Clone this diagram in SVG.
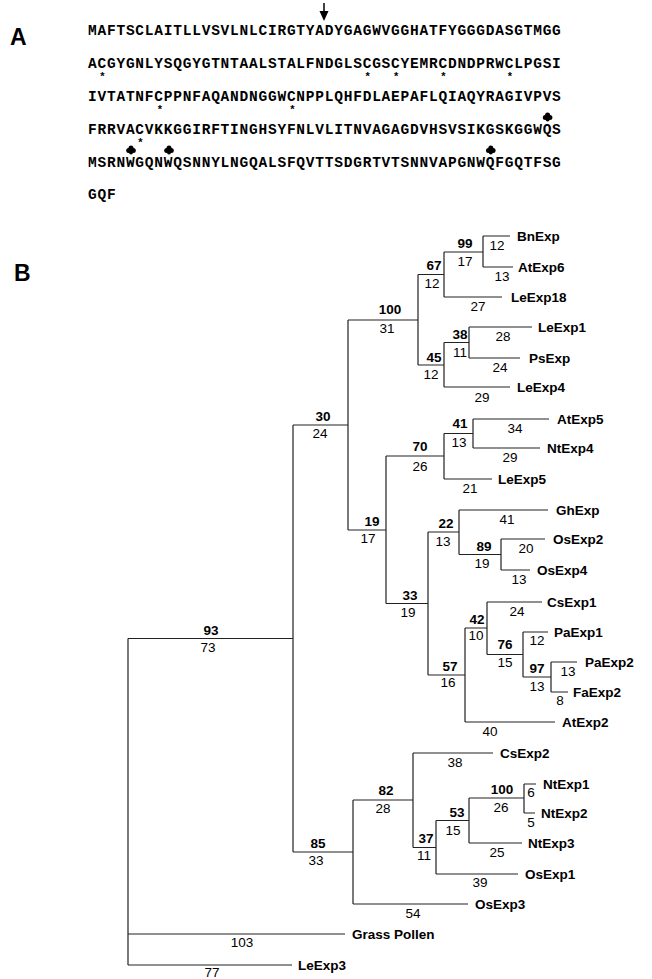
<svg xmlns="http://www.w3.org/2000/svg" width="652" height="979" viewBox="0 0 652 979">
<style>
.seq{font-family:"Liberation Mono","DejaVu Sans Mono",monospace;font-weight:bold;font-size:14.5px;letter-spacing:0.77px;fill:#000}
.ast{font-family:"Liberation Sans",Arial,sans-serif;font-weight:bold;font-size:11px;fill:#000;text-anchor:middle}
.panel{font-family:"Liberation Sans",Arial,sans-serif;font-weight:bold;font-size:23px;fill:#000}
.lab{font-family:"Liberation Sans",Arial,sans-serif;font-weight:bold;font-size:13.5px;fill:#000}
.bs{font-family:"Liberation Sans",Arial,sans-serif;font-weight:bold;font-size:13.5px;fill:#000;text-anchor:middle}
.len{font-family:"Liberation Sans",Arial,sans-serif;font-size:13.5px;fill:#000;text-anchor:middle}
.edge{fill:none;stroke:#222;stroke-width:1.2}
</style>
<defs>
<g id="blob"><circle cx="0" cy="-2" r="2.5"/><circle cx="-2.3" cy="0.6" r="2.5"/><circle cx="2.3" cy="0.6" r="2.5"/><circle cx="0" cy="2.4" r="2"/></g>
</defs>
<g id="panelA">
<text class="panel" x="10" y="45">A</text>
<text class="seq" x="88" y="35">MAFTSCLAITLLVSVLNLCIRGTYADYGAGWVGGHATFYGGGDASGTMGG</text>
<text class="seq" x="88" y="68">ACGYGNLYSQGYGTNTAALSTALFNDGLSCGSCYEMRCDNDPRWCLPGSI</text>
<text class="seq" x="88" y="101">IVTATNFCPPNFAQANDNGGWCNPPLQHFDLAEPAFLQIAQYRAGIVPVS</text>
<text class="seq" x="88" y="133.5">FRRVACVKKGGIRFTINGHSYFNLVLITNVAGAGDVHSVSIKGSKGGWQS</text>
<text class="seq" x="88" y="166.5">MSRNWGQNWQSNNYLNGQALSFQVTTSDGRTVTSNNVAPGNWQFGQTFSG</text>
<text class="seq" x="88" y="199">GQF</text>
<g id="arrow"><line x1="324" y1="3" x2="324" y2="13" stroke="#000" stroke-width="1.5"/><polygon points="319.5,11 328.5,11 324,21" fill="#000"/></g>
<g id="asterisks">
<text class="ast" x="102.5" y="80">*</text>
<text class="ast" x="367.7" y="80">*</text>
<text class="ast" x="396.1" y="80">*</text>
<text class="ast" x="443.5" y="80">*</text>
<text class="ast" x="509.8" y="80">*</text>
<text class="ast" x="159.8" y="113">*</text>
<text class="ast" x="292.4" y="113">*</text>
<text class="ast" x="140.4" y="145.5">*</text>
</g>
<g id="blobs" fill="#000">
<use href="#blob" x="547.6" y="117"/>
<use href="#blob" x="131" y="150"/>
<use href="#blob" x="169" y="150"/>
<use href="#blob" x="490.8" y="150"/>
</g>
</g>
<text class="panel" x="14" y="281">B</text>
<g id="connectors" class="edge">
<path d="M128 638.5V965M128 638.5H293M128 934H345M128 965H292"/>
<path d="M293 425V852M293 425H348M293 852H353"/>
<path d="M348 320V530M348 320H418M348 530H386"/>
<path d="M418 274.5V365M418 274.5H444M418 365H444"/>
<path d="M444 252V297M444 252H483M444 297H502"/>
<path d="M483 236V267M483 236H510M483 267H513"/>
<path d="M444 342.5V387M444 342.5H469M444 387H510"/>
<path d="M469 327V358M469 327H532M469 358H520"/>
<path d="M386 456V603.5M386 456H444M386 603.5H428"/>
<path d="M444 433.5V479M444 433.5H473M444 479H492"/>
<path d="M473 419V448M473 419H549M473 448H540"/>
<path d="M428 532V675M428 532H459M428 675H465"/>
<path d="M459 510V554.5M459 510H548M459 554.5H501"/>
<path d="M501 539V570M501 539H545M501 570H530"/>
<path d="M465 628V722M465 628H487M465 722H555"/>
<path d="M487 602V654.5M487 602H542M487 654.5H523"/>
<path d="M523 632V677M523 632H548M523 677H551"/>
<path d="M551 662V692M551 662H577M551 692H568"/>
<path d="M353 800V904M353 800H413M353 904H468"/>
<path d="M413 753V847.5M413 753H493M413 847.5H436"/>
<path d="M436 820.5V874M436 820.5H469M436 874H518"/>
<path d="M469 798V843M469 798H524M469 843H522"/>
<path d="M524 784V813M524 784H536M524 813H535"/>
</g>
<g id="leaves">
<g id="BnExp"><text class="lab" x="517" y="241">BnExp</text><text class="len" x="497" y="250">12</text></g>
<g id="AtExp6"><text class="lab" x="518" y="272">AtExp6</text><text class="len" x="502" y="281">13</text></g>
<g id="LeExp18"><text class="lab" x="511" y="302">LeExp18</text><text class="len" x="478" y="311">27</text></g>
<g id="LeExp1"><text class="lab" x="538" y="332">LeExp1</text><text class="len" x="503" y="341">28</text></g>
<g id="PsExp"><text class="lab" x="529" y="363">PsExp</text><text class="len" x="500" y="372">24</text></g>
<g id="LeExp4"><text class="lab" x="517" y="392">LeExp4</text><text class="len" x="482" y="402">29</text></g>
<g id="AtExp5"><text class="lab" x="557" y="424">AtExp5</text><text class="len" x="515" y="433">34</text></g>
<g id="NtExp4"><text class="lab" x="547" y="453">NtExp4</text><text class="len" x="510" y="462">29</text></g>
<g id="LeExp5"><text class="lab" x="498" y="484">LeExp5</text><text class="len" x="470" y="493">21</text></g>
<g id="GhExp"><text class="lab" x="556" y="515">GhExp</text><text class="len" x="507" y="524">41</text></g>
<g id="OsExp2"><text class="lab" x="553" y="544">OsExp2</text><text class="len" x="526" y="553">20</text></g>
<g id="OsExp4"><text class="lab" x="537" y="575">OsExp4</text><text class="len" x="519" y="584">13</text></g>
<g id="CsExp1"><text class="lab" x="547" y="607">CsExp1</text><text class="len" x="517" y="616">24</text></g>
<g id="PaExp1"><text class="lab" x="554" y="637">PaExp1</text><text class="len" x="537" y="645">12</text></g>
<g id="PaExp2"><text class="lab" x="585" y="667">PaExp2</text><text class="len" x="568" y="676">13</text></g>
<g id="FaExp2"><text class="lab" x="573" y="697">FaExp2</text><text class="len" x="560" y="705">8</text></g>
<g id="AtExp2"><text class="lab" x="562" y="727">AtExp2</text><text class="len" x="490" y="736">40</text></g>
<g id="CsExp2"><text class="lab" x="500" y="758">CsExp2</text><text class="len" x="455" y="767">38</text></g>
<g id="NtExp1"><text class="lab" x="543" y="789">NtExp1</text><text class="len" x="531" y="797">6</text></g>
<g id="NtExp2"><text class="lab" x="541" y="818">NtExp2</text><text class="len" x="531" y="827">5</text></g>
<g id="NtExp3"><text class="lab" x="528" y="848">NtExp3</text><text class="len" x="497" y="857">25</text></g>
<g id="OsExp1"><text class="lab" x="525" y="879">OsExp1</text><text class="len" x="480" y="887">39</text></g>
<g id="OsExp3"><text class="lab" x="475" y="909">OsExp3</text><text class="len" x="413" y="918">54</text></g>
<g id="GrassPollen"><text class="lab" x="352" y="939">Grass Pollen</text><text class="len" x="242" y="947">103</text></g>
<g id="LeExp3"><text class="lab" x="298" y="970">LeExp3</text><text class="len" x="212" y="977">77</text></g>
</g>
<g id="internal">
<g id="n99"><text class="bs" x="465" y="248">99</text><text class="len" x="465" y="266">17</text></g>
<g id="n67"><text class="bs" x="434" y="270">67</text><text class="len" x="432" y="288">12</text></g>
<g id="n38"><text class="bs" x="460" y="339">38</text><text class="len" x="460" y="357">11</text></g>
<g id="n45"><text class="bs" x="434" y="362">45</text><text class="len" x="431" y="379">12</text></g>
<g id="n100a"><text class="bs" x="390" y="314">100</text><text class="len" x="387" y="333">31</text></g>
<g id="n41"><text class="bs" x="460" y="428">41</text><text class="len" x="459" y="447">13</text></g>
<g id="n70"><text class="bs" x="420" y="451">70</text><text class="len" x="420" y="471">26</text></g>
<g id="n89"><text class="bs" x="484" y="551">89</text><text class="len" x="482" y="568">19</text></g>
<g id="n22"><text class="bs" x="446" y="528">22</text><text class="len" x="443" y="546">13</text></g>
<g id="n97"><text class="bs" x="537" y="673">97</text><text class="len" x="537" y="691">13</text></g>
<g id="n76"><text class="bs" x="505" y="649">76</text><text class="len" x="505" y="667">15</text></g>
<g id="n42"><text class="bs" x="477" y="624">42</text><text class="len" x="476" y="640">10</text></g>
<g id="n57"><text class="bs" x="450" y="671">57</text><text class="len" x="448" y="687">16</text></g>
<g id="n33"><text class="bs" x="410" y="600">33</text><text class="len" x="408" y="617">19</text></g>
<g id="n19"><text class="bs" x="372" y="526">19</text><text class="len" x="368" y="543">17</text></g>
<g id="n30"><text class="bs" x="323" y="421">30</text><text class="len" x="320" y="438">24</text></g>
<g id="n100b"><text class="bs" x="502" y="794">100</text><text class="len" x="501" y="812">26</text></g>
<g id="n53"><text class="bs" x="457" y="817">53</text><text class="len" x="453" y="835">15</text></g>
<g id="n37"><text class="bs" x="426" y="843">37</text><text class="len" x="424" y="860">11</text></g>
<g id="n82"><text class="bs" x="386" y="795">82</text><text class="len" x="383" y="813">28</text></g>
<g id="n85"><text class="bs" x="318" y="848">85</text><text class="len" x="316" y="865">33</text></g>
<g id="n93"><text class="bs" x="211" y="635">93</text><text class="len" x="208" y="652">73</text></g>
</g>
</svg>
